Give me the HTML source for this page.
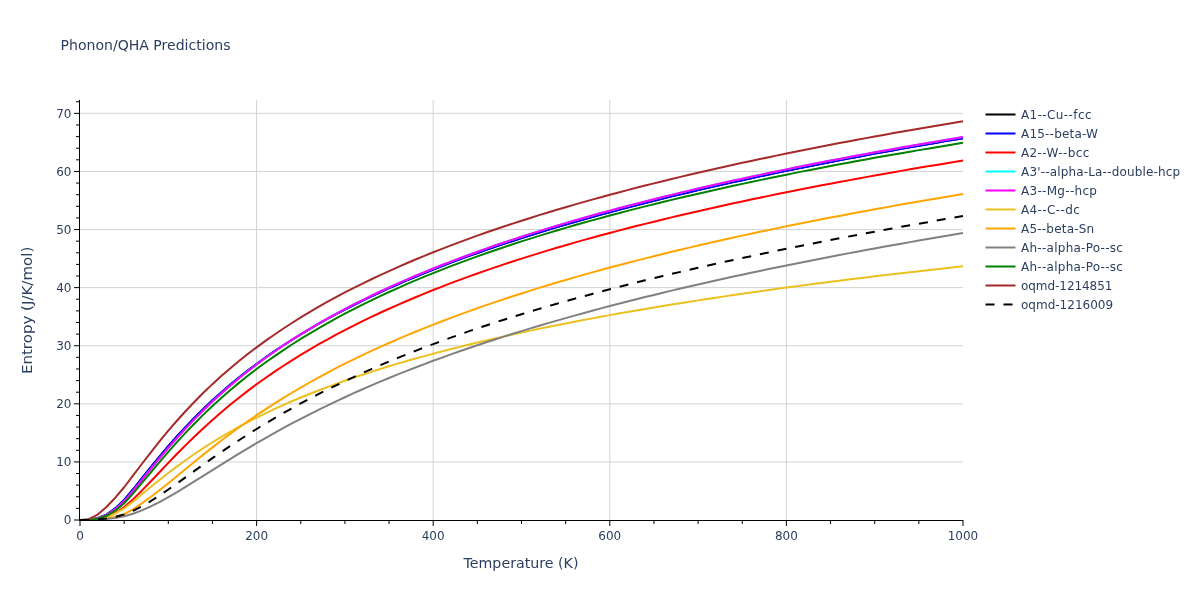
<!DOCTYPE html><html><head><meta charset="utf-8"><style>html,body{margin:0;padding:0;background:#fff;}svg{display:block;will-change:transform;}text{font-family:"DejaVu Sans","Liberation Sans",sans-serif;fill:#2a3f5f;}</style></head><body>
<svg width="1200" height="600" viewBox="0 0 1200 600">
<rect x="0" y="0" width="1200" height="600" fill="#fff"/>
<line x1="256.60" y1="100" x2="256.60" y2="520" stroke="#d3d3d3" stroke-width="1"/>
<line x1="433.20" y1="100" x2="433.20" y2="520" stroke="#d3d3d3" stroke-width="1"/>
<line x1="609.80" y1="100" x2="609.80" y2="520" stroke="#d3d3d3" stroke-width="1"/>
<line x1="786.40" y1="100" x2="786.40" y2="520" stroke="#d3d3d3" stroke-width="1"/>
<line x1="80" y1="461.91" x2="963.00" y2="461.91" stroke="#d3d3d3" stroke-width="1"/>
<line x1="80" y1="403.82" x2="963.00" y2="403.82" stroke="#d3d3d3" stroke-width="1"/>
<line x1="80" y1="345.73" x2="963.00" y2="345.73" stroke="#d3d3d3" stroke-width="1"/>
<line x1="80" y1="287.64" x2="963.00" y2="287.64" stroke="#d3d3d3" stroke-width="1"/>
<line x1="80" y1="229.55" x2="963.00" y2="229.55" stroke="#d3d3d3" stroke-width="1"/>
<line x1="80" y1="171.46" x2="963.00" y2="171.46" stroke="#d3d3d3" stroke-width="1"/>
<line x1="80" y1="113.37" x2="963.00" y2="113.37" stroke="#d3d3d3" stroke-width="1"/>
<g clip-path="url(#clip)" fill="none" stroke-width="2" stroke-linejoin="round">
<path d="M80.00,520.00L88.83,519.73L97.66,518.26L106.49,514.57L115.32,508.38L124.15,499.91L132.98,489.50L141.81,478.41L150.64,467.42L159.47,456.66L168.30,446.22L177.13,436.19L185.96,426.59L194.79,417.42L203.62,408.69L212.45,400.35L221.28,392.40L230.11,384.81L238.94,377.55L247.77,370.60L256.60,363.94L265.43,357.55L274.26,351.41L283.09,345.50L291.92,339.81L300.75,334.32L309.58,329.02L318.41,323.90L327.24,318.95L336.07,314.15L344.90,309.50L353.73,304.99L362.56,300.61L371.39,296.36L380.22,292.22L389.05,288.19L397.88,284.27L406.71,280.45L415.54,276.72L424.37,273.08L433.20,269.53L442.03,266.06L450.86,262.68L459.69,259.37L468.52,256.13L477.35,252.96L486.18,249.86L495.01,246.82L503.84,243.85L512.67,240.93L521.50,238.07L530.33,235.27L539.16,232.52L547.99,229.81L556.82,227.16L565.65,224.56L574.48,221.99L583.31,219.48L592.14,217.00L600.97,214.57L609.80,212.17L618.63,209.82L627.46,207.50L636.29,205.21L645.12,202.96L653.95,200.74L662.78,198.56L671.61,196.40L680.44,194.28L689.27,192.18L698.10,190.12L706.93,188.08L715.76,186.06L724.59,184.07L733.42,182.11L742.25,180.17L751.08,178.26L759.91,176.36L768.74,174.49L777.57,172.64L786.40,170.81L795.23,169.01L804.06,167.22L812.89,165.45L821.72,163.71L830.55,161.98L839.38,160.27L848.21,158.59L857.04,156.91L865.87,155.26L874.70,153.63L883.53,152.01L892.36,150.41L901.19,148.82L910.02,147.26L918.85,145.70L927.68,144.16L936.51,142.64L945.34,141.13L954.17,139.64L963.00,138.16" stroke="#000000"/>
<path d="M80.00,520.00L88.83,519.73L97.66,518.26L106.49,514.57L115.32,508.38L124.15,499.91L132.98,489.50L141.81,478.41L150.64,467.42L159.47,456.66L168.30,446.22L177.13,436.19L185.96,426.59L194.79,417.42L203.62,408.69L212.45,400.35L221.28,392.40L230.11,384.81L238.94,377.55L247.77,370.60L256.60,363.94L265.43,357.55L274.26,351.41L283.09,345.50L291.92,339.81L300.75,334.32L309.58,329.02L318.41,323.90L327.24,318.95L336.07,314.15L344.90,309.50L353.73,304.99L362.56,300.61L371.39,296.36L380.22,292.22L389.05,288.19L397.88,284.27L406.71,280.45L415.54,276.72L424.37,273.08L433.20,269.53L442.03,266.06L450.86,262.68L459.69,259.37L468.52,256.13L477.35,252.96L486.18,249.86L495.01,246.82L503.84,243.85L512.67,240.93L521.50,238.07L530.33,235.27L539.16,232.52L547.99,229.81L556.82,227.16L565.65,224.56L574.48,221.99L583.31,219.48L592.14,217.00L600.97,214.57L609.80,212.17L618.63,209.82L627.46,207.50L636.29,205.21L645.12,202.96L653.95,200.74L662.78,198.56L671.61,196.40L680.44,194.28L689.27,192.18L698.10,190.12L706.93,188.08L715.76,186.06L724.59,184.07L733.42,182.11L742.25,180.17L751.08,178.26L759.91,176.36L768.74,174.49L777.57,172.64L786.40,170.81L795.23,169.01L804.06,167.22L812.89,165.45L821.72,163.71L830.55,161.98L839.38,160.27L848.21,158.59L857.04,156.91L865.87,155.26L874.70,153.63L883.53,152.01L892.36,150.41L901.19,148.82L910.02,147.26L918.85,145.70L927.68,144.16L936.51,142.64L945.34,141.13L954.17,139.64L963.00,138.16" stroke="#0000ff"/>
<path d="M80.00,520.00L88.83,519.92L97.66,519.13L106.49,516.96L115.32,512.99L124.15,507.07L132.98,499.39L141.81,490.68L150.64,481.54L159.47,472.22L168.30,462.91L177.13,453.76L185.96,444.85L194.79,436.22L203.62,427.90L212.45,419.89L221.28,412.20L230.11,404.80L238.94,397.70L247.77,390.87L256.60,384.30L265.43,377.97L274.26,371.88L283.09,366.01L291.92,360.35L300.75,354.88L309.58,349.59L318.41,344.48L327.24,339.52L336.07,334.72L344.90,330.07L353.73,325.55L362.56,321.17L371.39,316.90L380.22,312.76L389.05,308.72L397.88,304.79L406.71,300.96L415.54,297.23L424.37,293.59L433.20,290.03L442.03,286.56L450.86,283.17L459.69,279.86L468.52,276.63L477.35,273.46L486.18,270.37L495.01,267.34L503.84,264.37L512.67,261.47L521.50,258.62L530.33,255.83L539.16,253.10L547.99,250.41L556.82,247.78L565.65,245.19L574.48,242.66L583.31,240.16L592.14,237.71L600.97,235.31L609.80,232.94L618.63,230.61L627.46,228.32L636.29,226.06L645.12,223.85L653.95,221.66L662.78,219.51L671.61,217.39L680.44,215.30L689.27,213.24L698.10,211.21L706.93,209.20L715.76,207.23L724.59,205.28L733.42,203.35L742.25,201.45L751.08,199.58L759.91,197.72L768.74,195.89L777.57,194.08L786.40,192.29L795.23,190.52L804.06,188.78L812.89,187.05L821.72,185.35L830.55,183.67L839.38,182.00L848.21,180.36L857.04,178.73L865.87,177.13L874.70,175.54L883.53,173.97L892.36,172.41L901.19,170.88L910.02,169.36L918.85,167.85L927.68,166.36L936.51,164.89L945.34,163.44L954.17,161.99L963.00,160.57" stroke="#ff0000"/>
<path d="M80.00,520.00L88.83,519.82L97.66,518.52L106.49,515.14L115.32,509.39L124.15,501.31L132.98,491.13L141.81,480.14L150.64,469.21L159.47,458.44L168.30,447.96L177.13,437.84L185.96,428.14L194.79,418.85L203.62,409.99L212.45,401.52L221.28,393.44L230.11,385.71L238.94,378.33L247.77,371.25L256.60,364.47L265.43,357.96L274.26,351.71L283.09,345.69L291.92,339.90L300.75,334.31L309.58,328.92L318.41,323.71L327.24,318.67L336.07,313.79L344.90,309.06L353.73,304.48L362.56,300.03L371.39,295.70L380.22,291.50L389.05,287.41L397.88,283.43L406.71,279.56L415.54,275.78L424.37,272.09L433.20,268.50L442.03,264.99L450.86,261.56L459.69,258.21L468.52,254.94L477.35,251.73L486.18,248.60L495.01,245.53L503.84,242.53L512.67,239.59L521.50,236.71L530.33,233.88L539.16,231.11L547.99,228.39L556.82,225.72L565.65,223.10L574.48,220.52L583.31,217.99L592.14,215.51L600.97,213.06L609.80,210.66L618.63,208.29L627.46,205.97L636.29,203.68L645.12,201.42L653.95,199.20L662.78,197.02L671.61,194.86L680.44,192.74L689.27,190.65L698.10,188.58L706.93,186.55L715.76,184.54L724.59,182.56L733.42,180.60L742.25,178.67L751.08,176.76L759.91,174.88L768.74,173.02L777.57,171.18L786.40,169.36L795.23,167.57L804.06,165.79L812.89,164.04L821.72,162.31L830.55,160.60L839.38,158.91L848.21,157.23L857.04,155.58L865.87,153.95L874.70,152.33L883.53,150.73L892.36,149.15L901.19,147.59L910.02,146.04L918.85,144.51L927.68,142.99L936.51,141.49L945.34,140.01L954.17,138.54L963.00,137.08" stroke="#00ffff"/>
<path d="M80.00,520.00L88.83,519.82L97.66,518.52L106.49,515.14L115.32,509.39L124.15,501.31L132.98,491.13L141.81,480.14L150.64,469.21L159.47,458.44L168.30,447.96L177.13,437.84L185.96,428.14L194.79,418.85L203.62,409.99L212.45,401.52L221.28,393.44L230.11,385.71L238.94,378.33L247.77,371.25L256.60,364.47L265.43,357.96L274.26,351.71L283.09,345.69L291.92,339.90L300.75,334.31L309.58,328.92L318.41,323.71L327.24,318.67L336.07,313.79L344.90,309.06L353.73,304.48L362.56,300.03L371.39,295.70L380.22,291.50L389.05,287.41L397.88,283.43L406.71,279.56L415.54,275.78L424.37,272.09L433.20,268.50L442.03,264.99L450.86,261.56L459.69,258.21L468.52,254.94L477.35,251.73L486.18,248.60L495.01,245.53L503.84,242.53L512.67,239.59L521.50,236.71L530.33,233.88L539.16,231.11L547.99,228.39L556.82,225.72L565.65,223.10L574.48,220.52L583.31,217.99L592.14,215.51L600.97,213.06L609.80,210.66L618.63,208.29L627.46,205.97L636.29,203.68L645.12,201.42L653.95,199.20L662.78,197.02L671.61,194.86L680.44,192.74L689.27,190.65L698.10,188.58L706.93,186.55L715.76,184.54L724.59,182.56L733.42,180.60L742.25,178.67L751.08,176.76L759.91,174.88L768.74,173.02L777.57,171.18L786.40,169.36L795.23,167.57L804.06,165.79L812.89,164.04L821.72,162.31L830.55,160.60L839.38,158.91L848.21,157.23L857.04,155.58L865.87,153.95L874.70,152.33L883.53,150.73L892.36,149.15L901.19,147.59L910.02,146.04L918.85,144.51L927.68,142.99L936.51,141.49L945.34,140.01L954.17,138.54L963.00,137.08" stroke="#ff00ff"/>
<path d="M80.00,520.00L88.83,519.90L97.66,519.09L106.49,516.99L115.32,513.45L124.15,508.35L132.98,501.62L141.81,494.31L150.64,487.10L159.47,480.00L168.30,473.08L177.13,466.39L185.96,459.95L194.79,453.80L203.62,447.91L212.45,442.28L221.28,436.91L230.11,431.77L238.94,426.85L247.77,422.15L256.60,417.63L265.43,413.30L274.26,409.13L283.09,405.12L291.92,401.26L300.75,397.54L309.58,393.95L318.41,390.48L327.24,387.12L336.07,383.87L344.90,380.72L353.73,377.67L362.56,374.71L371.39,371.83L380.22,369.03L389.05,366.31L397.88,363.66L406.71,361.07L415.54,358.56L424.37,356.11L433.20,353.71L442.03,351.38L450.86,349.09L459.69,346.86L468.52,344.68L477.35,342.55L486.18,340.46L495.01,338.41L503.84,336.41L512.67,334.45L521.50,332.52L530.33,330.64L539.16,328.78L547.99,326.97L556.82,325.18L565.65,323.43L574.48,321.71L583.31,320.02L592.14,318.36L600.97,316.73L609.80,315.12L618.63,313.54L627.46,311.99L636.29,310.46L645.12,308.95L653.95,307.47L662.78,306.01L671.61,304.57L680.44,303.16L689.27,301.76L698.10,300.38L706.93,299.03L715.76,297.69L724.59,296.37L733.42,295.07L742.25,293.78L751.08,292.51L759.91,291.26L768.74,290.03L777.57,288.81L786.40,287.61L795.23,286.42L804.06,285.24L812.89,284.08L821.72,282.94L830.55,281.81L839.38,280.69L848.21,279.58L857.04,278.49L865.87,277.41L874.70,276.34L883.53,275.28L892.36,274.23L901.19,273.20L910.02,272.18L918.85,271.17L927.68,270.16L936.51,269.17L945.34,268.19L954.17,267.22L963.00,266.26" stroke="#eac11e"/>
<path d="M80.00,520.00L88.83,519.93L97.66,519.54L106.49,518.60L115.32,517.05L124.15,514.24L132.98,509.36L141.81,503.39L150.64,497.03L159.47,490.26L168.30,483.19L177.13,475.96L185.96,468.69L194.79,461.46L203.62,454.35L212.45,447.37L221.28,440.56L230.11,433.94L238.94,427.50L247.77,421.25L256.60,415.19L265.43,409.31L274.26,403.62L283.09,398.10L291.92,392.74L300.75,387.55L309.58,382.50L318.41,377.61L327.24,372.85L336.07,368.23L344.90,363.73L353.73,359.36L362.56,355.10L371.39,350.95L380.22,346.91L389.05,342.97L397.88,339.13L406.71,335.38L415.54,331.71L424.37,328.13L433.20,324.63L442.03,321.21L450.86,317.86L459.69,314.59L468.52,311.38L477.35,308.24L486.18,305.16L495.01,302.15L503.84,299.19L512.67,296.29L521.50,293.44L530.33,290.65L539.16,287.90L547.99,285.21L556.82,282.56L565.65,279.96L574.48,277.40L583.31,274.89L592.14,272.41L600.97,269.98L609.80,267.58L618.63,265.23L627.46,262.91L636.29,260.62L645.12,258.37L653.95,256.16L662.78,253.97L671.61,251.82L680.44,249.69L689.27,247.60L698.10,245.54L706.93,243.50L715.76,241.49L724.59,239.51L733.42,237.56L742.25,235.63L751.08,233.72L759.91,231.84L768.74,229.98L777.57,228.14L786.40,226.33L795.23,224.54L804.06,222.77L812.89,221.02L821.72,219.29L830.55,217.59L839.38,215.90L848.21,214.23L857.04,212.57L865.87,210.94L874.70,209.32L883.53,207.73L892.36,206.14L901.19,204.58L910.02,203.03L918.85,201.50L927.68,199.98L936.51,198.48L945.34,196.99L954.17,195.52L963.00,194.07" stroke="#ffa500"/>
<path d="M80.00,520.00L88.83,519.84L97.66,519.53L106.49,518.92L115.32,517.93L124.15,516.30L132.98,513.71L141.81,510.37L150.64,506.48L159.47,502.07L168.30,497.23L177.13,492.08L185.96,486.71L194.79,481.22L203.62,475.66L212.45,470.10L221.28,464.56L230.11,459.08L238.94,453.68L247.77,448.38L256.60,443.17L265.43,438.08L274.26,433.09L283.09,428.23L291.92,423.47L300.75,418.83L309.58,414.29L318.41,409.87L327.24,405.55L336.07,401.34L344.90,397.22L353.73,393.20L362.56,389.27L371.39,385.43L380.22,381.68L389.05,378.01L397.88,374.42L406.71,370.91L415.54,367.47L424.37,364.10L433.20,360.80L442.03,357.57L450.86,354.40L459.69,351.29L468.52,348.24L477.35,345.25L486.18,342.32L495.01,339.43L503.84,336.60L512.67,333.82L521.50,331.09L530.33,328.40L539.16,325.76L547.99,323.16L556.82,320.60L565.65,318.09L574.48,315.61L583.31,313.17L592.14,310.77L600.97,308.40L609.80,306.07L618.63,303.78L627.46,301.51L636.29,299.28L645.12,297.08L653.95,294.91L662.78,292.77L671.61,290.65L680.44,288.57L689.27,286.51L698.10,284.48L706.93,282.47L715.76,280.49L724.59,278.53L733.42,276.60L742.25,274.69L751.08,272.80L759.91,270.93L768.74,269.09L777.57,267.26L786.40,265.46L795.23,263.68L804.06,261.91L812.89,260.17L821.72,258.44L830.55,256.73L839.38,255.04L848.21,253.37L857.04,251.72L865.87,250.08L874.70,248.45L883.53,246.85L892.36,245.26L901.19,243.68L910.02,242.12L918.85,240.57L927.68,239.04L936.51,237.53L945.34,236.02L954.17,234.53L963.00,233.05" stroke="#808080"/>
<path d="M80.00,520.00L88.83,519.88L97.66,518.77L106.49,515.80L115.32,510.64L124.15,503.21L132.98,493.62L141.81,483.13L150.64,472.59L159.47,462.13L168.30,451.88L177.13,441.94L185.96,432.37L194.79,423.19L203.62,414.40L212.45,405.99L221.28,397.95L230.11,390.25L238.94,382.89L247.77,375.83L256.60,369.06L265.43,362.56L274.26,356.31L283.09,350.30L291.92,344.51L300.75,338.92L309.58,333.53L318.41,328.31L327.24,323.27L336.07,318.39L344.90,313.66L353.73,309.08L362.56,304.63L371.39,300.30L380.22,296.10L389.05,292.01L397.88,288.04L406.71,284.16L415.54,280.38L424.37,276.70L433.20,273.11L442.03,269.60L450.86,266.18L459.69,262.83L468.52,259.57L477.35,256.38L486.18,253.25L495.01,250.20L503.84,247.21L512.67,244.28L521.50,241.41L530.33,238.60L539.16,235.84L547.99,233.13L556.82,230.48L565.65,227.88L574.48,225.32L583.31,222.81L592.14,220.34L600.97,217.92L609.80,215.54L618.63,213.19L627.46,210.89L636.29,208.62L645.12,206.39L653.95,204.19L662.78,202.02L671.61,199.89L680.44,197.79L689.27,195.72L698.10,193.68L706.93,191.66L715.76,189.68L724.59,187.72L733.42,185.78L742.25,183.87L751.08,181.99L759.91,180.12L768.74,178.28L777.57,176.47L786.40,174.67L795.23,172.89L804.06,171.14L812.89,169.41L821.72,167.70L830.55,166.00L839.38,164.33L848.21,162.68L857.04,161.05L865.87,159.44L874.70,157.84L883.53,156.27L892.36,154.71L901.19,153.16L910.02,151.64L918.85,150.13L927.68,148.64L936.51,147.16L945.34,145.70L954.17,144.25L963.00,142.82" stroke="#008000"/>
<path d="M80.00,520.00L88.83,519.17L97.66,514.60L106.49,506.96L115.32,497.70L124.15,487.24L132.98,475.73L141.81,463.98L150.64,452.52L159.47,441.42L168.30,430.73L177.13,420.50L185.96,410.74L194.79,401.44L203.62,392.58L212.45,384.14L221.28,376.10L230.11,368.42L238.94,361.09L247.77,354.07L256.60,347.34L265.43,340.89L274.26,334.70L283.09,328.74L291.92,323.00L300.75,317.47L309.58,312.13L318.41,306.97L327.24,301.98L336.07,297.15L344.90,292.48L353.73,287.94L362.56,283.53L371.39,279.25L380.22,275.09L389.05,271.04L397.88,267.10L406.71,263.26L415.54,259.52L424.37,255.87L433.20,252.30L442.03,248.82L450.86,245.42L459.69,242.10L468.52,238.85L477.35,235.68L486.18,232.56L495.01,229.52L503.84,226.53L512.67,223.61L521.50,220.74L530.33,217.93L539.16,215.17L547.99,212.46L556.82,209.81L565.65,207.20L574.48,204.63L583.31,202.11L592.14,199.63L600.97,197.19L609.80,194.80L618.63,192.44L627.46,190.11L636.29,187.83L645.12,185.58L653.95,183.36L662.78,181.18L671.61,179.02L680.44,176.90L689.27,174.81L698.10,172.75L706.93,170.71L715.76,168.71L724.59,166.72L733.42,164.77L742.25,162.84L751.08,160.93L759.91,159.05L768.74,157.19L777.57,155.36L786.40,153.54L795.23,151.75L804.06,149.98L812.89,148.23L821.72,146.49L830.55,144.78L839.38,143.09L848.21,141.42L857.04,139.77L865.87,138.13L874.70,136.51L883.53,134.91L892.36,133.33L901.19,131.76L910.02,130.21L918.85,128.68L927.68,127.16L936.51,125.66L945.34,124.17L954.17,122.70L963.00,121.24" stroke="#a52a2a"/>
<path d="M80.00,520.00L88.83,519.80L97.66,519.35L106.49,518.44L115.32,516.87L124.15,514.38L132.98,510.78L141.81,506.29L150.64,501.16L159.47,495.52L168.30,489.53L177.13,483.32L185.96,477.01L194.79,470.67L203.62,464.37L212.45,458.15L221.28,452.04L230.11,446.06L238.94,440.22L247.77,434.53L256.60,428.99L265.43,423.59L274.26,418.34L283.09,413.24L291.92,408.28L300.75,403.45L309.58,398.75L318.41,394.18L327.24,389.73L336.07,385.39L344.90,381.17L353.73,377.05L362.56,373.03L371.39,369.11L380.22,365.29L389.05,361.55L397.88,357.90L406.71,354.33L415.54,350.84L424.37,347.42L433.20,344.08L442.03,340.81L450.86,337.61L459.69,334.47L468.52,331.40L477.35,328.39L486.18,325.44L495.01,322.55L503.84,319.71L512.67,316.92L521.50,314.19L530.33,311.50L539.16,308.86L547.99,306.27L556.82,303.72L565.65,301.21L574.48,298.75L583.31,296.32L592.14,293.93L600.97,291.58L609.80,289.27L618.63,286.98L627.46,284.73L636.29,282.52L645.12,280.33L653.95,278.17L662.78,276.05L671.61,273.95L680.44,271.87L689.27,269.83L698.10,267.80L706.93,265.81L715.76,263.83L724.59,261.88L733.42,259.95L742.25,258.04L751.08,256.15L759.91,254.28L768.74,252.43L777.57,250.60L786.40,248.78L795.23,246.99L804.06,245.21L812.89,243.45L821.72,241.72L830.55,239.99L839.38,238.29L848.21,236.61L857.04,234.94L865.87,233.28L874.70,231.65L883.53,230.03L892.36,228.42L901.19,226.84L910.02,225.26L918.85,223.70L927.68,222.16L936.51,220.63L945.34,219.11L954.17,217.60L963.00,216.11" stroke="#000000" stroke-dasharray="9px,9px"/>
</g>
<defs><clipPath id="clip"><rect x="80" y="100" width="884" height="421"/></clipPath></defs>
<line x1="79.5" y1="100" x2="79.5" y2="521" stroke="#000" stroke-width="1"/>
<line x1="79" y1="520.5" x2="963.50" y2="520.5" stroke="#000" stroke-width="1"/>
<line x1="80.00" y1="521" x2="80.00" y2="526" stroke="#000" stroke-width="1"/>
<line x1="124.15" y1="521" x2="124.15" y2="524" stroke="#000" stroke-width="1"/>
<line x1="168.30" y1="521" x2="168.30" y2="524" stroke="#000" stroke-width="1"/>
<line x1="212.45" y1="521" x2="212.45" y2="524" stroke="#000" stroke-width="1"/>
<line x1="256.60" y1="521" x2="256.60" y2="526" stroke="#000" stroke-width="1"/>
<line x1="300.75" y1="521" x2="300.75" y2="524" stroke="#000" stroke-width="1"/>
<line x1="344.90" y1="521" x2="344.90" y2="524" stroke="#000" stroke-width="1"/>
<line x1="389.05" y1="521" x2="389.05" y2="524" stroke="#000" stroke-width="1"/>
<line x1="433.20" y1="521" x2="433.20" y2="526" stroke="#000" stroke-width="1"/>
<line x1="477.35" y1="521" x2="477.35" y2="524" stroke="#000" stroke-width="1"/>
<line x1="521.50" y1="521" x2="521.50" y2="524" stroke="#000" stroke-width="1"/>
<line x1="565.65" y1="521" x2="565.65" y2="524" stroke="#000" stroke-width="1"/>
<line x1="609.80" y1="521" x2="609.80" y2="526" stroke="#000" stroke-width="1"/>
<line x1="653.95" y1="521" x2="653.95" y2="524" stroke="#000" stroke-width="1"/>
<line x1="698.10" y1="521" x2="698.10" y2="524" stroke="#000" stroke-width="1"/>
<line x1="742.25" y1="521" x2="742.25" y2="524" stroke="#000" stroke-width="1"/>
<line x1="786.40" y1="521" x2="786.40" y2="526" stroke="#000" stroke-width="1"/>
<line x1="830.55" y1="521" x2="830.55" y2="524" stroke="#000" stroke-width="1"/>
<line x1="874.70" y1="521" x2="874.70" y2="524" stroke="#000" stroke-width="1"/>
<line x1="918.85" y1="521" x2="918.85" y2="524" stroke="#000" stroke-width="1"/>
<line x1="963.00" y1="521" x2="963.00" y2="526" stroke="#000" stroke-width="1"/>
<line x1="74" y1="520.00" x2="79" y2="520.00" stroke="#000" stroke-width="1"/>
<line x1="76" y1="508.38" x2="79" y2="508.38" stroke="#000" stroke-width="1"/>
<line x1="76" y1="496.76" x2="79" y2="496.76" stroke="#000" stroke-width="1"/>
<line x1="76" y1="485.15" x2="79" y2="485.15" stroke="#000" stroke-width="1"/>
<line x1="76" y1="473.53" x2="79" y2="473.53" stroke="#000" stroke-width="1"/>
<line x1="74" y1="461.91" x2="79" y2="461.91" stroke="#000" stroke-width="1"/>
<line x1="76" y1="450.29" x2="79" y2="450.29" stroke="#000" stroke-width="1"/>
<line x1="76" y1="438.67" x2="79" y2="438.67" stroke="#000" stroke-width="1"/>
<line x1="76" y1="427.06" x2="79" y2="427.06" stroke="#000" stroke-width="1"/>
<line x1="76" y1="415.44" x2="79" y2="415.44" stroke="#000" stroke-width="1"/>
<line x1="74" y1="403.82" x2="79" y2="403.82" stroke="#000" stroke-width="1"/>
<line x1="76" y1="392.20" x2="79" y2="392.20" stroke="#000" stroke-width="1"/>
<line x1="76" y1="380.58" x2="79" y2="380.58" stroke="#000" stroke-width="1"/>
<line x1="76" y1="368.97" x2="79" y2="368.97" stroke="#000" stroke-width="1"/>
<line x1="76" y1="357.35" x2="79" y2="357.35" stroke="#000" stroke-width="1"/>
<line x1="74" y1="345.73" x2="79" y2="345.73" stroke="#000" stroke-width="1"/>
<line x1="76" y1="334.11" x2="79" y2="334.11" stroke="#000" stroke-width="1"/>
<line x1="76" y1="322.49" x2="79" y2="322.49" stroke="#000" stroke-width="1"/>
<line x1="76" y1="310.88" x2="79" y2="310.88" stroke="#000" stroke-width="1"/>
<line x1="76" y1="299.26" x2="79" y2="299.26" stroke="#000" stroke-width="1"/>
<line x1="74" y1="287.64" x2="79" y2="287.64" stroke="#000" stroke-width="1"/>
<line x1="76" y1="276.02" x2="79" y2="276.02" stroke="#000" stroke-width="1"/>
<line x1="76" y1="264.40" x2="79" y2="264.40" stroke="#000" stroke-width="1"/>
<line x1="76" y1="252.79" x2="79" y2="252.79" stroke="#000" stroke-width="1"/>
<line x1="76" y1="241.17" x2="79" y2="241.17" stroke="#000" stroke-width="1"/>
<line x1="74" y1="229.55" x2="79" y2="229.55" stroke="#000" stroke-width="1"/>
<line x1="76" y1="217.93" x2="79" y2="217.93" stroke="#000" stroke-width="1"/>
<line x1="76" y1="206.31" x2="79" y2="206.31" stroke="#000" stroke-width="1"/>
<line x1="76" y1="194.70" x2="79" y2="194.70" stroke="#000" stroke-width="1"/>
<line x1="76" y1="183.08" x2="79" y2="183.08" stroke="#000" stroke-width="1"/>
<line x1="74" y1="171.46" x2="79" y2="171.46" stroke="#000" stroke-width="1"/>
<line x1="76" y1="159.84" x2="79" y2="159.84" stroke="#000" stroke-width="1"/>
<line x1="76" y1="148.22" x2="79" y2="148.22" stroke="#000" stroke-width="1"/>
<line x1="76" y1="136.61" x2="79" y2="136.61" stroke="#000" stroke-width="1"/>
<line x1="76" y1="124.99" x2="79" y2="124.99" stroke="#000" stroke-width="1"/>
<line x1="74" y1="113.37" x2="79" y2="113.37" stroke="#000" stroke-width="1"/>
<line x1="76" y1="101.75" x2="79" y2="101.75" stroke="#000" stroke-width="1"/>
<text x="80.00" y="539.5" font-size="12" text-anchor="middle">0</text>
<text x="256.60" y="539.5" font-size="12" text-anchor="middle">200</text>
<text x="433.20" y="539.5" font-size="12" text-anchor="middle">400</text>
<text x="609.80" y="539.5" font-size="12" text-anchor="middle">600</text>
<text x="786.40" y="539.5" font-size="12" text-anchor="middle">800</text>
<text x="963.00" y="539.5" font-size="12" text-anchor="middle">1000</text>
<text x="71.5" y="524.30" font-size="12" text-anchor="end">0</text>
<text x="71.5" y="466.21" font-size="12" text-anchor="end">10</text>
<text x="71.5" y="408.12" font-size="12" text-anchor="end">20</text>
<text x="71.5" y="350.03" font-size="12" text-anchor="end">30</text>
<text x="71.5" y="291.94" font-size="12" text-anchor="end">40</text>
<text x="71.5" y="233.85" font-size="12" text-anchor="end">50</text>
<text x="71.5" y="175.76" font-size="12" text-anchor="end">60</text>
<text x="71.5" y="117.67" font-size="12" text-anchor="end">70</text>
<text x="60.5" y="50" font-size="14" textLength="170" lengthAdjust="spacingAndGlyphs">Phonon/QHA Predictions</text>
<text x="521" y="567.5" font-size="14" text-anchor="middle" textLength="115" lengthAdjust="spacingAndGlyphs">Temperature (K)</text>
<text transform="translate(32.2,310.4) rotate(-90)" font-size="14" text-anchor="middle" textLength="127.3" lengthAdjust="spacingAndGlyphs">Entropy (J/K/mol)</text>
<line x1="985.5" y1="114.5" x2="1015.5" y2="114.5" stroke="#000000" stroke-width="2"/>
<text x="1021" y="118.7" font-size="12" textLength="70.55" lengthAdjust="spacing">A1--Cu--fcc</text>
<line x1="985.5" y1="133.5" x2="1015.5" y2="133.5" stroke="#0000ff" stroke-width="2"/>
<text x="1021" y="137.7" font-size="12" textLength="76.92" lengthAdjust="spacing">A15--beta-W</text>
<line x1="985.5" y1="152.5" x2="1015.5" y2="152.5" stroke="#ff0000" stroke-width="2"/>
<text x="1021" y="156.7" font-size="12" textLength="68.36" lengthAdjust="spacing">A2--W--bcc</text>
<line x1="985.5" y1="171.5" x2="1015.5" y2="171.5" stroke="#00ffff" stroke-width="2"/>
<text x="1021" y="175.7" font-size="12" textLength="159.19" lengthAdjust="spacing">A3&#39;--alpha-La--double-hcp</text>
<line x1="985.5" y1="190.5" x2="1015.5" y2="190.5" stroke="#ff00ff" stroke-width="2"/>
<text x="1021" y="194.7" font-size="12" textLength="75.97" lengthAdjust="spacing">A3--Mg--hcp</text>
<line x1="985.5" y1="209.5" x2="1015.5" y2="209.5" stroke="#eac11e" stroke-width="2"/>
<text x="1021" y="213.7" font-size="12" textLength="58.75" lengthAdjust="spacing">A4--C--dc</text>
<line x1="985.5" y1="228.5" x2="1015.5" y2="228.5" stroke="#ffa500" stroke-width="2"/>
<text x="1021" y="232.7" font-size="12" textLength="73.14" lengthAdjust="spacing">A5--beta-Sn</text>
<line x1="985.5" y1="247.5" x2="1015.5" y2="247.5" stroke="#808080" stroke-width="2"/>
<text x="1021" y="251.7" font-size="12" textLength="101.95" lengthAdjust="spacing">Ah--alpha-Po--sc</text>
<line x1="985.5" y1="266.5" x2="1015.5" y2="266.5" stroke="#008000" stroke-width="2"/>
<text x="1021" y="270.7" font-size="12" textLength="101.95" lengthAdjust="spacing">Ah--alpha-Po--sc</text>
<line x1="985.5" y1="285.5" x2="1015.5" y2="285.5" stroke="#a52a2a" stroke-width="2"/>
<text x="1021" y="289.7" font-size="12" textLength="91.39" lengthAdjust="spacing">oqmd-1214851</text>
<line x1="985.5" y1="304.5" x2="1015.5" y2="304.5" stroke="#000000" stroke-width="2" stroke-dasharray="9px,9px"/>
<text x="1021" y="308.7" font-size="12" textLength="92.09" lengthAdjust="spacing">oqmd-1216009</text>
</svg></body></html>
